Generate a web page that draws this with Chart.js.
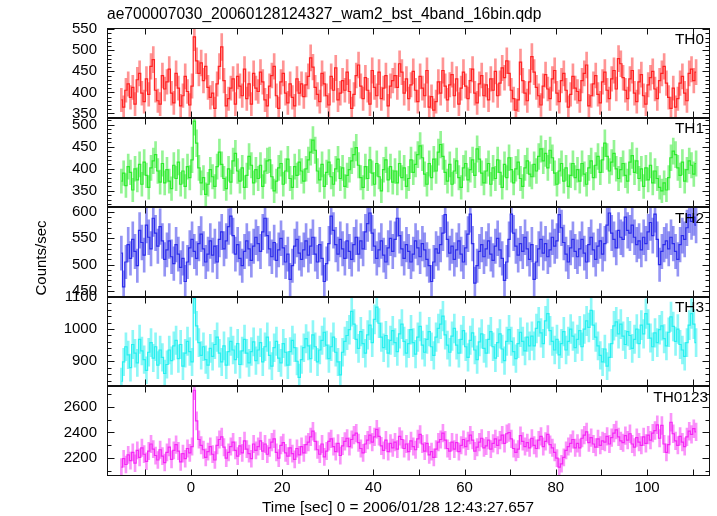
<!DOCTYPE html>
<html><head><meta charset="utf-8">
<script src="https://cdn.jsdelivr.net/npm/chart.js@4.4.1/dist/chart.umd.min.js"></script>
<style>html,body{margin:0;padding:0;background:#fff;}canvas{display:block;}</style>
</head><body>
<div style="width:717px;height:516px;position:relative"><canvas id="c" width="717" height="516"></canvas></div>
<script>
const chartTitle = "ae700007030_20060128124327_wam2_bst_4band_16bin.qdp";
const xTitle = "Time [sec] 0 = 2006/01/28 12:43:27.657";
const yTitle = "Counts/sec";
const panelNames = ["TH0", "TH1", "TH2", "TH3", "TH0123"];
const binStart = -15.5;   // start time of first bin (s)
const binWidth = 0.5;     // bin width (s)

const th0 = [
382,365,405,420,388,412,372,430,445,398,378,432,395,462,478,405,380,372,440,408,
425,455,398,375,445,410,368,392,438,402,370,415,532,475,445,470,428,462,412,388,
398,362,420,462,508,428,368,385,410,432,372,438,415,392,455,385,420,372,445,410,
402,448,425,382,368,415,440,462,392,362,425,445,398,375,420,388,368,432,398,420,
390,418,438,482,460,412,395,378,445,420,392,370,438,405,458,382,398,428,405,448,
402,362,395,440,465,415,385,435,405,372,452,412,392,448,385,410,440,368,415,428,
440,412,468,448,398,432,385,418,450,405,378,438,410,392,452,365,390,358,378,425,
398,452,415,382,418,442,392,432,372,410,448,415,385,428,455,398,375,420,440,392,
418,382,432,405,450,392,422,458,435,475,445,405,385,358,382,472,428,398,380,425,
485,448,412,392,370,415,442,408,385,432,452,398,378,428,445,405,365,395,438,410,
402,380,428,445,465,368,392,420,440,395,375,425,448,405,385,432,452,408,480,468,
435,405,385,432,452,398,378,425,442,392,372,418,435,450,408,385,428,445,462,422,
388,362,410,365,385,422,438,398,380,445,455,428,448];

const th1 = [
372,390,362,405,392,352,400,375,410,365,415,385,358,402,418,432,395,370,412,368,
398,372,355,408,378,415,365,395,360,405,380,420,508,458,402,368,380,342,365,398,
382,360,405,438,410,378,355,400,370,418,435,395,372,402,358,385,428,408,368,398,
378,408,360,395,418,420,382,350,372,402,412,365,395,422,378,358,405,385,415,395,
372,400,420,438,465,442,395,375,410,360,392,415,382,365,400,422,378,402,360,385,
398,418,432,448,408,380,358,405,378,420,390,365,412,382,350,398,420,375,405,370,
395,368,412,380,402,360,378,420,392,410,432,452,425,388,365,412,380,422,395,438,
455,428,392,372,410,365,395,418,380,358,402,412,375,398,420,385,445,422,390,368,
395,412,365,402,378,420,392,358,410,380,425,398,368,400,415,378,360,402,418,388,
382,410,395,428,445,418,435,402,442,425,390,365,395,412,372,402,360,385,412,380,
398,372,412,388,365,402,418,380,408,428,392,420,458,428,395,415,435,400,378,398,
412,385,372,415,430,392,418,378,400,360,402,375,408,368,395,378,358,350,368,352,
380,425,440,432,402,385,415,372,398,418,408,388,412];

const th2 = [
522,458,505,538,512,548,525,498,565,542,518,575,552,530,588,560,535,572,545,510,
528,545,515,502,538,520,495,512,468,505,532,548,525,512,540,558,530,505,520,545,
518,535,505,548,562,530,545,572,592,555,520,538,512,498,525,545,530,508,535,552,
540,525,562,588,555,530,515,542,508,528,550,532,505,520,472,498,535,548,522,510,
528,545,518,535,552,520,505,538,512,468,502,540,592,565,538,520,548,530,512,545,
525,510,538,552,520,545,530,562,578,598,560,535,512,528,545,518,505,532,550,525,
548,588,555,530,512,538,525,505,520,545,532,515,540,528,510,498,468,505,530,522,
538,560,595,548,522,535,510,528,545,520,505,532,558,596,540,465,498,525,538,515,
530,545,520,508,535,550,528,512,470,505,548,596,560,535,518,540,525,552,530,510,
538,472,505,530,548,522,540,515,528,552,535,545,595,570,542,520,505,532,548,525,
515,530,548,522,505,538,552,528,510,535,545,520,540,575,598,560,548,532,565,552,
548,590,565,560,575,552,538,545,528,552,540,562,580,555,596,548,500,525,538,545,
530,552,540,525,510,538,555,548,570,595,582,590,575];

const th3 = [
838,898,945,920,880,952,925,895,968,932,905,872,928,958,910,945,888,935,912,862,
890,935,902,948,965,908,952,885,925,962,930,898,1095,1010,958,918,945,905,888,940,
915,952,975,925,898,948,888,930,962,935,905,955,890,932,968,925,895,930,960,902,
935,958,898,945,975,918,885,942,962,910,895,955,928,888,930,965,942,900,850,905,
942,970,948,908,982,945,898,935,965,990,950,908,945,975,928,898,858,928,962,980,
998,1055,1015,968,940,992,955,925,982,1012,958,1030,1068,1018,975,942,980,925,965,995,
958,930,985,1015,962,925,955,998,958,922,975,1008,950,928,968,992,945,918,975,1002,
1015,1040,982,950,928,978,1002,950,925,968,995,945,912,965,988,935,905,960,985,940,
925,968,992,945,910,958,985,938,902,962,998,962,930,908,955,990,962,932,975,948,
978,948,1002,1022,988,955,1025,1048,995,962,935,968,920,955,992,935,962,1000,978,942,
968,995,945,1000,1025,1005,1058,1012,975,948,918,898,938,885,912,955,1010,1022,985,1015,
978,952,992,980,940,968,1000,955,1012,985,1048,1015,972,945,988,958,998,1010,970,948,
990,1038,1008,962,1000,952,935,915,958,1012,1048,1015,958];

const th0123 = [
2130,2195,2150,2225,2180,2245,2160,2260,2205,2280,2230,2175,2255,2310,2270,2220,2185,2265,2215,2165,
2245,2285,2190,2260,2305,2255,2170,2235,2195,2275,2240,2290,2730,2490,2345,2300,2265,2205,2250,2290,
2230,2185,2300,2345,2365,2285,2200,2245,2290,2325,2260,2215,2295,2240,2335,2270,2235,2195,2310,2260,
2290,2335,2255,2310,2230,2280,2325,2350,2245,2200,2300,2320,2240,2215,2280,2235,2190,2275,2225,2290,
2240,2305,2325,2365,2410,2330,2265,2230,2310,2210,2255,2330,2350,2290,2250,2315,2220,2295,2330,2355,
2290,2345,2380,2395,2320,2275,2240,2310,2340,2380,2325,2365,2425,2370,2295,2260,2340,2250,2315,2280,
2325,2270,2370,2345,2275,2310,2250,2335,2290,2265,2350,2385,2310,2255,2315,2225,2250,2205,2270,2325,
2345,2395,2340,2275,2255,2325,2270,2320,2250,2300,2345,2290,2335,2380,2340,2255,2285,2325,2355,2280,
2295,2340,2270,2315,2350,2300,2340,2380,2315,2390,2400,2350,2275,2245,2270,2375,2330,2290,2320,2280,
2355,2300,2275,2340,2370,2290,2330,2385,2305,2280,2245,2200,2130,2155,2205,2260,2290,2315,2345,2280,
2315,2280,2355,2380,2405,2320,2360,2310,2285,2350,2300,2335,2325,2370,2310,2360,2395,2420,2365,2335,
2320,2375,2340,2390,2310,2285,2360,2325,2300,2365,2315,2380,2340,2395,2415,2460,2355,2455,2310,2245,
2305,2480,2390,2335,2300,2370,2325,2290,2365,2410,2385,2430,2405];

const seriesValues = [th0, th1, th2, th3, th0123];
const yMin   = [340, 313, 439, 822, 2060];
const yMax   = [553, 516, 609, 1100, 2760];
const yMajor = [50, 50, 50, 100, 200];
const yMinor = [10, 10, 10, 20, 100];
const xMin = -18.4, xMax = 113.8, xLabelStep = 20, xTickStep = 10;

const lineColors = ['rgb(255,35,35)', 'rgb(45,235,45)', 'rgb(45,45,235)', 'rgb(40,240,240)', 'rgb(245,40,245)'];
const barColors  = ['rgba(255,60,60,0.55)', 'rgba(60,235,60,0.55)', 'rgba(60,60,235,0.55)', 'rgba(50,240,240,0.55)', 'rgba(245,60,245,0.55)'];

const FONT = '"Liberation Sans", Arial, Helvetica, sans-serif';
const isMult = (v, m) => Math.abs(v / m - Math.round(v / m)) < 1e-6;

const datasets = [];
seriesValues.forEach((vals, s) => {
  const pts = vals.map((v, i) => ({ x: binStart + (i + 0.5) * binWidth, y: v }));
  const errs = vals.map((v, i) => {
    const e = Math.sqrt(v * binWidth) / binWidth;
    return { x: binStart + (i + 0.5) * binWidth, y: [v - e, v + e] };
  });
  datasets.push({
    type: 'line', label: panelNames[s], data: pts, yAxisID: 'y' + s, xAxisID: 'x',
    borderColor: lineColors[s], borderWidth: 1.2, pointRadius: 0, stepped: 'middle',
    fill: false, order: 0
  });
  datasets.push({
    type: 'bar', label: panelNames[s] + ' err', data: errs, yAxisID: 'y' + s, xAxisID: 'x',
    backgroundColor: barColors[s], borderWidth: 0, barThickness: 2, grouped: false, order: 1
  });
});

const scales = {
  x: {
    type: 'linear', position: 'bottom', min: xMin, max: xMax, offset: false,
    grid: { display: false, drawTicks: false, offset: false }, border: { display: false },
    ticks: {
      stepSize: xLabelStep, autoSkip: false, maxRotation: 0, includeBounds: false, padding: 3,
      color: '#000', font: { family: FONT, size: 15 },
      callback: v => isMult(v, xLabelStep) ? String(Math.round(v)) : ''
    },
    afterFit: s => { s.height = 40; }
  }
};
for (let s = seriesValues.length - 1; s >= 0; s--) {
  scales['y' + s] = {
    type: 'linear', position: 'left', stack: 'panels', stackWeight: 1, offset: false,
    min: yMin[s], max: yMax[s],
    grid: { display: false, drawTicks: false }, border: { display: false },
    ticks: {
      stepSize: yMajor[s], autoSkip: false, includeBounds: false, padding: 10,
      color: '#000', font: { family: FONT, size: 15 },
      callback: (v) => isMult(v, yMajor[s]) ? String(Math.round(v)) : ''
    },
    afterFit: sc => { sc.width = 107; }
  };
}

const framePlugin = {
  id: 'frames',
  beforeDatasetDraw(chart, args) {
    const ds = chart.data.datasets[args.index];
    const sc = chart.scales[ds.yAxisID];
    const a = chart.chartArea, ctx = chart.ctx;
    ctx.save();
    ctx.beginPath();
    ctx.rect(a.left, sc.top, a.right - a.left, sc.bottom - sc.top);
    ctx.clip();
  },
  afterDatasetDraw(chart) { chart.ctx.restore(); },
  afterDraw(chart) {
    const ctx = chart.ctx, a = chart.chartArea, xs = chart.scales.x;
    ctx.save();
    ctx.strokeStyle = '#111';
    ctx.lineWidth = 1;
    const L = Math.round(a.left) + 0.5, R = Math.round(a.right) - 0.5;
    for (let s = 0; s < seriesValues.length; s++) {
      const sc = chart.scales['y' + s];
      const T = Math.round(sc.top) + 0.5, B = Math.round(sc.bottom) - 0.5;
      ctx.strokeRect(L, T, R - L, B - T);
      ctx.beginPath();
      const v0 = Math.ceil(sc.min / yMinor[s] - 1e-9) * yMinor[s];
      for (let v = v0; v <= sc.max + 1e-9; v += yMinor[s]) {
        const y = Math.round(sc.getPixelForValue(v)) + 0.5;
        const len = isMult(v, yMajor[s]) ? 7 : 4;
        ctx.moveTo(L, y); ctx.lineTo(L + len, y);
        ctx.moveTo(R, y); ctx.lineTo(R - len, y);
      }
      const t0 = Math.ceil(xMin / xTickStep) * xTickStep;
      for (let t = t0; t <= xMax; t += xTickStep) {
        const x = Math.round(xs.getPixelForValue(t)) + 0.5;
        ctx.moveTo(x, T); ctx.lineTo(x, T + 6);
        ctx.moveTo(x, B); ctx.lineTo(x, B - 6);
      }
      ctx.stroke();
      ctx.fillStyle = '#000';
      ctx.font = '15.4px ' + FONT;
      ctx.textAlign = 'right';
      ctx.textBaseline = 'alphabetic';
      ctx.fillText(panelNames[s], s === 4 ? 708 : 704, sc.top + 15.5);
    }
    ctx.fillStyle = '#000';
    ctx.font = '15.6px ' + FONT;
    ctx.textAlign = 'left';
    ctx.textBaseline = 'alphabetic';
    ctx.fillText(chartTitle, a.left, 19);
    ctx.font = '15.4px ' + FONT;
    ctx.textAlign = 'center';
    ctx.fillText(xTitle, 398, 512);
    ctx.font = '15px ' + FONT;
    ctx.translate(46, (a.top + a.bottom) / 2 + 6);
    ctx.rotate(-Math.PI / 2);
    ctx.fillText(yTitle, 0, 0);
    ctx.restore();
  }
};

new Chart(document.getElementById('c'), {
  type: 'bar',
  data: { datasets },
  options: {
    responsive: false, animation: false, devicePixelRatio: 1,
    layout: { padding: { top: 28, right: 7, left: 0, bottom: 0 } },
    plugins: { legend: { display: false }, tooltip: { enabled: false }, title: { display: false } },
    scales
  },
  plugins: [framePlugin]
});
</script>
</body></html>
